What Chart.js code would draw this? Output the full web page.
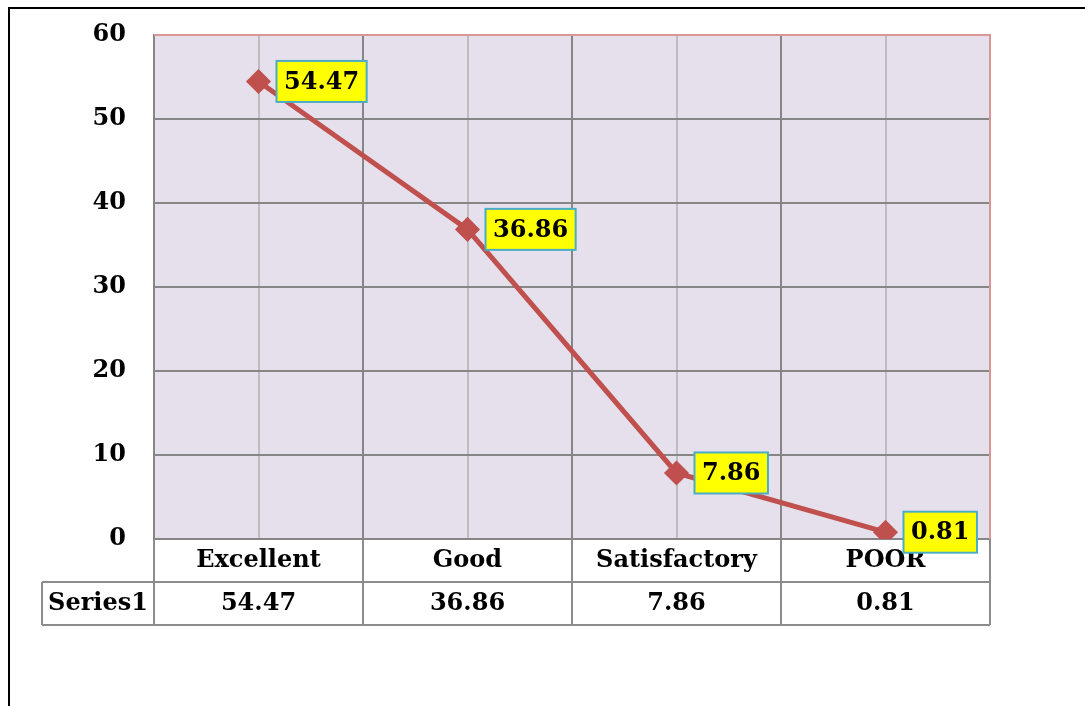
<!DOCTYPE html>
<html>
<head>
<meta charset="utf-8">
<script src="https://cdn.jsdelivr.net/npm/chart.js@4/dist/chart.umd.min.js"></script>
<style>
  body { margin: 0; background: #fff; }
  #wrap { width: 1085px; height: 706px; }
</style>
</head>
<body>
<div id="wrap"><canvas id="lineChart" width="1085" height="706"></canvas></div>
<script>
// data
const categories = ['Excellent', 'Good', 'Satisfactory', 'POOR'];
const series1 = [54.47, 36.86, 7.86, 0.81];
const seriesName = 'Series1';
const yMin = 0, yMax = 60, yStep = 10;

const fontFam = '"DejaVu Serif", "Liberation Serif", serif';
const lineColor = '#C0504D';

// background, outer frame and plot borders
const fondo = {
  id: 'fondo',
  beforeDraw(chart) {
    const c = chart.ctx, a = chart.chartArea;
    c.save();
    c.fillStyle = '#fff';
    c.fillRect(0, 0, chart.width, chart.height);
    c.strokeStyle = '#000';
    c.lineWidth = 2;
    c.beginPath();
    c.moveTo(9, chart.height);
    c.lineTo(9, 8);
    c.lineTo(chart.width, 8);
    c.stroke();
    c.fillStyle = '#E5E0EC';
    c.fillRect(a.left, a.top, a.right - a.left, a.bottom - a.top);
    c.restore();
  },
  beforeDatasetsDraw(chart) {
    const c = chart.ctx, a = chart.chartArea;
    c.save();
    c.strokeStyle = '#D99694';
    c.lineWidth = 2;
    c.beginPath();
    c.moveTo(a.left, a.top);
    c.lineTo(a.right, a.top);
    c.lineTo(a.right, a.bottom);
    c.stroke();
    c.restore();
  }
};

// data table under the plot + data labels
const tabla = {
  id: 'tabla',
  afterDraw(chart) {
    const c = chart.ctx, a = chart.chartArea;
    const x = chart.scales.x;
    const n = categories.length;
    const cw = (a.right - a.left) / n;
    const r1 = a.bottom + 43, r2 = a.bottom + 86;
    const leftCell = 42;
    c.save();
    c.strokeStyle = '#8C8C8C';
    c.lineWidth = 2;
    c.beginPath();
    c.moveTo(leftCell, r1); c.lineTo(a.right, r1);
    c.moveTo(leftCell, r2); c.lineTo(a.right, r2);
    c.moveTo(leftCell, r1); c.lineTo(leftCell, r2);
    for (let i = 0; i <= n; i++) {
      const xx = a.left + i * cw;
      c.moveTo(xx, a.bottom); c.lineTo(xx, r2);
    }
    c.stroke();

    c.fillStyle = '#000';
    c.font = 'bold 24px ' + fontFam;
    c.textAlign = 'center';
    c.textBaseline = 'middle';
    categories.forEach((cat, i) => {
      const cx = x.getPixelForValue(i);
      c.fillText(cat, cx, a.bottom + 22);
      c.fillText(series1[i].toFixed(2), cx, r1 + 22);
    });
    c.fillText(seriesName, (leftCell + a.left) / 2, r1 + 22);

    // data labels
    const meta = chart.getDatasetMeta(0);
    meta.data.forEach((pt, i) => {
      const txt = series1[i].toFixed(2);
      const tw = c.measureText(txt).width;
      const bw = tw + 15, bh = 41;
      const bx = pt.x + 18, by = pt.y - bh / 2;
      c.fillStyle = '#FFFF00';
      c.fillRect(bx, by, bw, bh);
      c.strokeStyle = '#4BACC6';
      c.lineWidth = 2;
      c.strokeRect(bx, by, bw, bh);
      c.fillStyle = '#000';
      c.fillText(txt, bx + bw / 2, pt.y + 1);
    });
    c.restore();
  }
};

function sinPadding(s) {
  s.paddingTop = 0; s.paddingBottom = 0;
  s.paddingLeft = 0; s.paddingRight = 0;
}

grafico_lineas();

function grafico_lineas() {
  let ctx = document.getElementById('lineChart').getContext('2d');
  new Chart(ctx, {
    type: 'line',
    data: {
      labels: categories,
      datasets: [{
        label: seriesName,
        data: series1,
        borderColor: lineColor,
        backgroundColor: lineColor,
        borderWidth: 5,
        tension: 0,
        pointStyle: 'rectRot',
        pointRadius: 9,
        pointHoverRadius: 9
      }]
    },
    options: {
      responsive: false,
      animation: false,
      events: [],
      layout: { padding: { left: 0, right: 95, top: 35, bottom: 0 } },
      plugins: { legend: { display: false }, tooltip: { enabled: false } },
      scales: {
        x: {
          type: 'category',
          position: 'bottom',
          offset: true,
          grid: { offset: true, color: '#868686', lineWidth: 2, drawTicks: false },
          border: { display: true, color: '#868686', width: 2 },
          ticks: { display: false },
          afterFit(s) { s.height = 167; sinPadding(s); }
        },
        x2: {
          type: 'category',
          labels: categories,
          position: 'bottom',
          offset: true,
          grid: { offset: false, color: '#BDBDBD', lineWidth: 2, drawTicks: false },
          border: { display: false },
          ticks: { display: false },
          afterFit(s) { s.height = 0; sinPadding(s); }
        },
        y: {
          min: yMin,
          max: yMax,
          ticks: {
            stepSize: yStep,
            padding: 28,
            color: '#000',
            font: { family: fontFam, size: 24, weight: 'bold' }
          },
          grid: { color: '#868686', lineWidth: 2, drawTicks: false },
          border: { display: true, color: '#868686', width: 2 },
          afterFit(s) { s.width = 154; sinPadding(s); }
        }
      }
    },
    plugins: [fondo, tabla]
  });
}
</script>
</body>
</html>
